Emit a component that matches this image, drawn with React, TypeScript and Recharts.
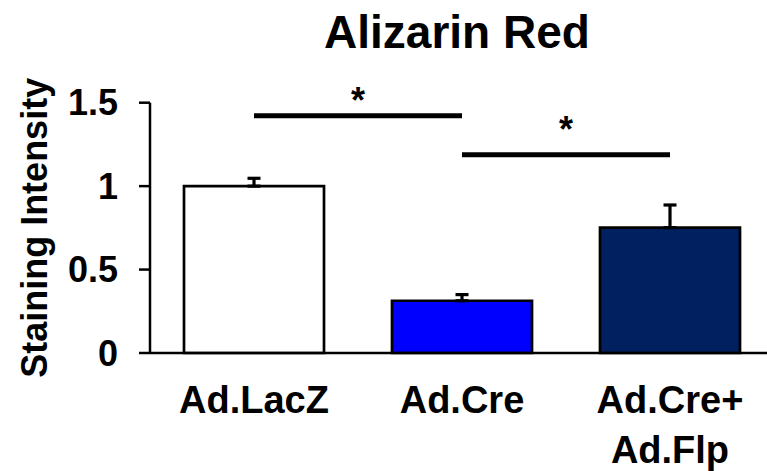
import React from 'react';
import { BarChart, Bar, XAxis, YAxis, Cell, ErrorBar, ReferenceLine, Label } from 'recharts';

const categories = ['Ad.LacZ', 'Ad.Cre', 'Ad.Cre+\nAd.Flp'];
const values = [1.0, 0.313, 0.751];
const errors = [0.047, 0.037, 0.136];
const colors = ['#FFFFFF', '#0000FF', '#002060'];
const yTicks = [0, 0.5, 1, 1.5];
const sigFrom = ['Ad.LacZ', 'Ad.Cre'];
const sigTo = ['Ad.Cre', 'Ad.Cre+\nAd.Flp'];
const sigLevel = [1.422, 1.188];
const sigText = ['*', '*'];
const starGap = [3, 13];

const title = 'Alizarin Red';
const yLabel = 'Staining Intensity';
const FONT = '"Liberation Sans", Arial, sans-serif';

const data = categories.map((c, i) => ({ name: c, value: values[i], err: [0, errors[i]] }));

const XTick = (props: any) => {
  const { x, y, payload } = props;
  const lines = String(payload.value).split('\n');
  return (
    <text x={x} y={y} textAnchor="middle" fontSize={38} fontWeight="bold" fill="#000" fontFamily={FONT}>
      {lines.map((l, i) => (
        <tspan key={i} x={x} dy={i === 0 ? 60 : 50}>{l}</tspan>
      ))}
    </text>
  );
};

const StarLabel = (gap: number, text: string) => (props: any) => {
  const vb = props.viewBox || {};
  const cx = vb.x + (vb.width || 0) / 2;
  return (
    <text x={cx} y={vb.y - gap} textAnchor="middle" fontSize={36} fontWeight="bold" fill="#000" fontFamily={FONT}>
      {text}
    </text>
  );
};

export default function App() {
  return (
    <div style={{ position: 'absolute', left: 0, top: 0, width: 767, height: 471, overflow: 'hidden', background: '#fff' }}>
      <svg width={767} height={471} style={{ position: 'absolute', left: 0, top: 0, pointerEvents: 'none' }}>
        <text x={457} y={48} textAnchor="middle" fontSize={46} fontWeight="bold" fill="#000" fontFamily={FONT}>{title}</text>
      </svg>
      <div style={{ position: 'absolute', left: 0, top: 0 }}>
        <BarChart width={774} height={471} data={data} margin={{ top: 102.7, right: 0, bottom: 0, left: 0 }} barSize={140}>
          <XAxis
            dataKey="name"
            height={118}
            tickLine={false}
            tickSize={0}
            tickMargin={0}
            axisLine={{ stroke: '#000', strokeWidth: 2.5 }}
            tick={<XTick />}
            interval={0}
          />
          <YAxis
            width={150}
            domain={[0, 1.5]}
            ticks={yTicks}
            tickSize={11}
            tickMargin={21}
            axisLine={{ stroke: '#000', strokeWidth: 2.5 }}
            tickLine={{ stroke: '#000', strokeWidth: 2.5 }}
            tick={{ fontSize: 36, fontWeight: 'bold', fill: '#000', fontFamily: FONT }}
            interval={0}
          >
            <Label
              content={(p: any) => {
                const vb = p.viewBox || {};
                const cx = vb.x + 35;
                const cy = vb.y + vb.height / 2;
                return (
                  <text x={cx} y={cy} transform={`rotate(-90 ${cx} ${cy})`} textAnchor="middle" dominantBaseline="central" fontSize={36} fontWeight="bold" fill="#000" fontFamily={FONT}>
                    {yLabel}
                  </text>
                );
              }}
            />
          </YAxis>
          <Bar dataKey="value" stroke="#000" strokeWidth={2.7} isAnimationActive={false}>
            {data.map((d, i) => (
              <Cell key={i} fill={colors[i]} />
            ))}
            <ErrorBar dataKey="err" direction="y" width={6.5} stroke="#000" strokeWidth={3.2} />
          </Bar>
          {sigLevel.map((lv, i) => (
            <ReferenceLine
              key={i}
              segment={[{ x: sigFrom[i], y: lv }, { x: sigTo[i], y: lv }]}
              stroke="#000"
              strokeWidth={5}
              label={StarLabel(starGap[i], sigText[i])}
            />
          ))}
        </BarChart>
      </div>
    </div>
  );
}
